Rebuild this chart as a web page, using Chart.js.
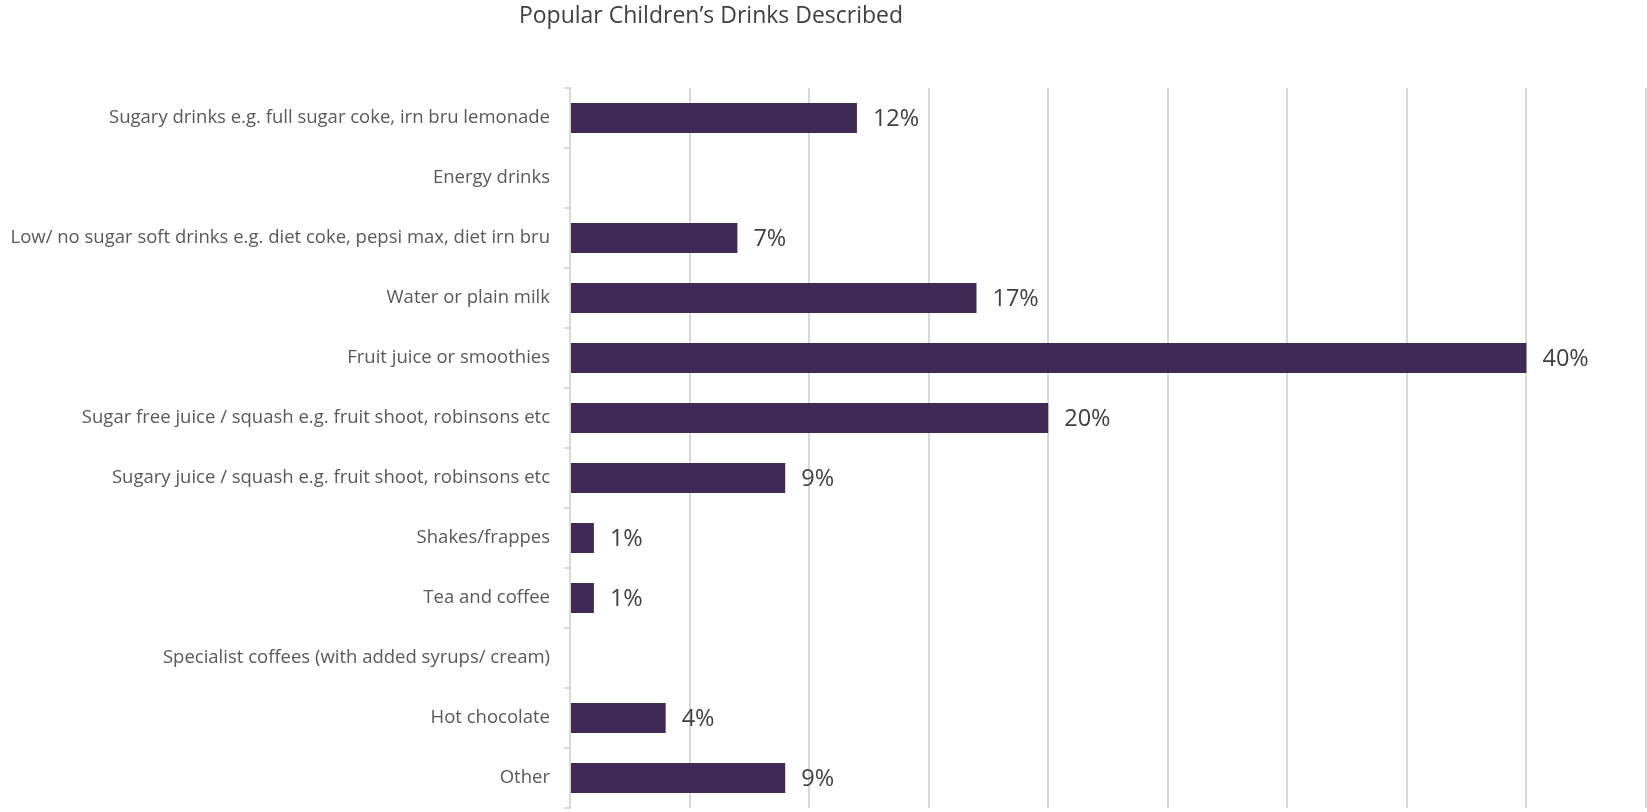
<!DOCTYPE html>
<html lang="en">
<head>
<meta charset="UTF-8">
<title>Popular Children’s Drinks Described</title>
<script src="https://cdn.jsdelivr.net/npm/chart.js"></script>
<style>
  html, body { margin: 0; padding: 0; background: #ffffff; }
  #wrap { width: 1647px; height: 812px; }
</style>
</head>
<body>
<div id="wrap"><canvas id="drinksChart" width="1647" height="812"></canvas></div>

<script>
// categories, top to bottom
const drinkLabels = [
    'Sugary drinks e.g. full sugar coke, irn bru lemonade',
    'Energy drinks',
    'Low/ no sugar soft drinks e.g. diet coke, pepsi max, diet irn bru',
    'Water or plain milk',
    'Fruit juice or smoothies',
    'Sugar free juice / squash e.g. fruit shoot, robinsons etc',
    'Sugary juice / squash e.g. fruit shoot, robinsons etc',
    'Shakes/frappes',
    'Tea and coffee',
    'Specialist coffees (with added syrups/ cream)',
    'Hot chocolate',
    'Other'
];

// share of respondents, percent
const drinkShares = [12, 0, 7, 17, 40, 20, 9, 1, 1, 0, 4, 9];

const axisMax = 45;
const axisStep = 5;

const chartTitle = 'Popular Children’s Drinks Described';
const fontFamily = '"Open Sans", "Noto Sans", sans-serif';

// title sits left of centre, so draw it by hand
const titlePlugin = {
    id: 'manualTitle',
    afterDraw(chart) {
        const ctx = chart.ctx;
        ctx.save();
        ctx.font = '23px ' + fontFamily;
        ctx.fillStyle = '#404040';
        ctx.textAlign = 'center';
        ctx.textBaseline = 'middle';
        ctx.fillText(chartTitle, 711, 16);
        ctx.restore();
    }
};

// value labels at the end of each bar
const valueLabels = {
    id: 'valueLabels',
    afterDatasetsDraw(chart) {
        const ctx = chart.ctx;
        const meta = chart.getDatasetMeta(0);
        ctx.save();
        ctx.font = '23.5px ' + fontFamily;
        ctx.fillStyle = '#404040';
        ctx.textAlign = 'left';
        ctx.textBaseline = 'middle';
        meta.data.forEach((bar, i) => {
            const v = drinkShares[i];
            if (!v) return;
            ctx.fillText(v + '%', bar.x + 16, bar.y + 1);
        });
        ctx.restore();
    }
};

new Chart(document.getElementById('drinksChart'), {
    type: 'bar',
    data: {
        labels: drinkLabels,
        datasets: [{
            data: drinkShares,
            backgroundColor: '#402a55',
            borderWidth: 0,
            categoryPercentage: 1,
            barPercentage: 0.5
        }]
    },
    options: {
        indexAxis: 'y',
        responsive: false,
        animation: false,
        layout: { padding: { top: 88, bottom: 4, left: 0, right: 1 } },
        plugins: {
            legend: { display: false },
            title: { display: false },
            tooltip: { enabled: false }
        },
        scales: {
            x: {
                min: 0,
                max: axisMax,
                ticks: { display: false, stepSize: axisStep },
                grid: { color: '#d9d9d9', lineWidth: 2, drawTicks: false },
                border: { display: false },
                afterFit(scale) { scale.height = 0; }
            },
            y: {
                ticks: {
                    color: '#595959',
                    font: { family: fontFamily, size: 18.5 },
                    padding: 14
                },
                grid: {
                    drawOnChartArea: false,
                    drawTicks: true,
                    tickLength: 6,
                    color: '#d9d9d9',
                    lineWidth: 2
                },
                border: { display: true, color: '#d9d9d9', width: 2 },
                afterFit(scale) {
                    scale.width = 570;
                    // labels sit inside their bands, no extra room needed
                    scale.paddingTop = 0;
                    scale.paddingBottom = 0;
                }
            }
        }
    },
    plugins: [titlePlugin, valueLabels]
});
</script>
</body>
</html>
